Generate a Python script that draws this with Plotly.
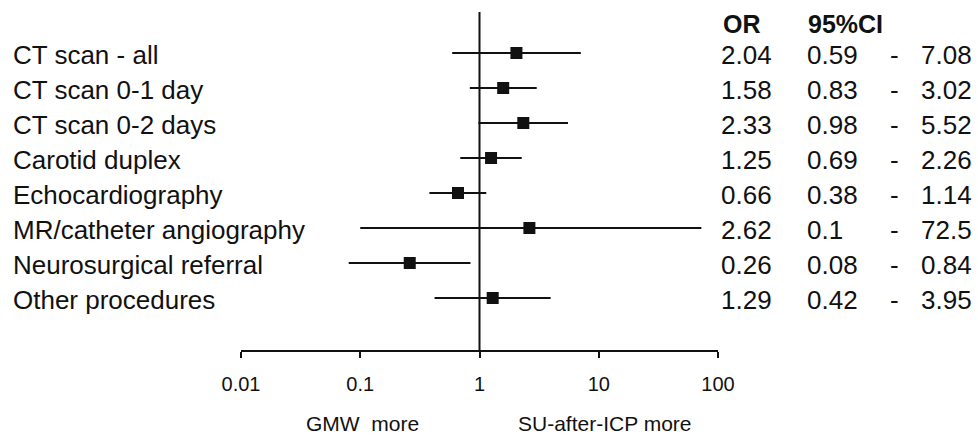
import plotly.graph_objects as go

# Odds ratios with 95% confidence intervals per procedure
procedures = [
    "CT scan - all",
    "CT scan 0-1 day",
    "CT scan 0-2 days",
    "Carotid duplex",
    "Echocardiography",
    "MR/catheter angiography",
    "Neurosurgical referral",
    "Other procedures",
]
odds_ratio = [2.04, 1.58, 2.33, 1.25, 0.66, 2.62, 0.26, 1.29]
ci_low = [0.59, 0.83, 0.98, 0.69, 0.38, 0.1, 0.08, 0.42]
ci_high = [7.08, 3.02, 5.52, 2.26, 1.14, 72.5, 0.84, 3.95]
or_ticks = [0.01, 0.1, 1, 10, 100]
tick_labels = ["0.01", "0.1", "1", "10", "100"]

W, H = 978, 435
PLOT_L, PLOT_R = 241, 718          # pixel extent of the log axis (0.01 .. 100)
AXIS_Y = 350                       # pixel row of the x axis line
ROW_STEP = 35                      # pixels between rows
TOP_ROW_Y = 53

n = len(procedures)
row_val = [n - i for i in range(n)]            # top row -> n, bottom row -> 1
y_min = 1 - (AXIS_Y - (TOP_ROW_Y + ROW_STEP * (n - 1))) / ROW_STEP
y_max = y_min + AXIS_Y / ROW_STEP


def xp(px):
    """pixel column -> paper x"""
    return (px - PLOT_L) / (PLOT_R - PLOT_L)


def yp(py):
    """pixel row -> paper y"""
    return (AXIS_Y - py) / AXIS_Y


def yv(py):
    """pixel row -> y data value"""
    return y_min + (AXIS_Y - py) / ROW_STEP


INK = "#111111"
FONT = "Liberation Sans"

fig = go.Figure()

# reference line at OR = 1
fig.add_trace(go.Scatter(
    x=[1, 1], y=[y_min, yv(12)], mode="lines",
    line=dict(color=INK, width=2), hoverinfo="skip",
))

# confidence interval whiskers
seg_x, seg_y = [], []
for lo, hi, v in zip(ci_low, ci_high, row_val):
    seg_x += [lo, hi, None]
    seg_y += [v, v, None]
fig.add_trace(go.Scatter(
    x=seg_x, y=seg_y, mode="lines",
    line=dict(color=INK, width=2), hoverinfo="skip",
))

# point estimates
fig.add_trace(go.Scatter(
    x=odds_ratio, y=row_val, mode="markers",
    marker=dict(symbol="square", size=12, color=INK, line=dict(width=0)),
))

ann = []
# row labels
for name, v in zip(procedures, row_val):
    ann.append(dict(x=xp(11), xref="paper", y=v - 0.07, yref="y", text=name,
                    xanchor="left", yanchor="middle", showarrow=False,
                    font=dict(family=FONT, size=26, color=INK)))

# table headers
ann.append(dict(x=xp(721), xref="paper", y=yv(24), yref="y", text="<b>OR</b>",
                xanchor="left", yanchor="middle", showarrow=False,
                font=dict(family=FONT, size=25, color=INK)))
ann.append(dict(x=xp(806), xref="paper", y=yv(24), yref="y", text="<b>95%CI</b>",
                xanchor="left", yanchor="middle", showarrow=False,
                font=dict(family=FONT, size=25, color=INK)))

# table values
for o, lo, hi, v in zip(odds_ratio, ci_low, ci_high, row_val):
    yy = v - 0.07
    ann.append(dict(x=xp(719), xref="paper", y=yy, yref="y", text=f"{o:g}",
                    xanchor="left", yanchor="middle", showarrow=False,
                    font=dict(family=FONT, size=26, color=INK)))
    ann.append(dict(x=xp(805), xref="paper", y=yy, yref="y", text=f"{lo:g}",
                    xanchor="left", yanchor="middle", showarrow=False,
                    font=dict(family=FONT, size=26, color=INK)))
    ann.append(dict(x=xp(894), xref="paper", y=yy, yref="y", text="-",
                    xanchor="center", yanchor="middle", showarrow=False,
                    font=dict(family=FONT, size=26, color=INK)))
    ann.append(dict(x=xp(974), xref="paper", y=yy, yref="y", text=f"{hi:g}",
                    xanchor="right", yanchor="middle", showarrow=False,
                    font=dict(family=FONT, size=26, color=INK)))

# direction captions under the axis
ann.append(dict(x=xp(362), xref="paper", y=yp(423), yref="paper", text="GMW&nbsp;&nbsp;more",
                xanchor="center", yanchor="middle", showarrow=False,
                font=dict(family=FONT, size=21, color=INK)))
ann.append(dict(x=xp(605), xref="paper", y=yp(423), yref="paper", text="SU-after-ICP more",
                xanchor="center", yanchor="middle", showarrow=False,
                font=dict(family=FONT, size=21, color=INK)))

fig.update_layout(
    width=W, height=H,
    margin=dict(l=PLOT_L, r=W - PLOT_R, t=0, b=H - AXIS_Y),
    paper_bgcolor="white", plot_bgcolor="white",
    showlegend=False,
    annotations=ann,
    xaxis=dict(
        type="log", range=[-2, 2],
        tickvals=or_ticks, ticktext=tick_labels,
        showline=True, linecolor=INK, linewidth=2,
        ticks="outside", ticklen=6, tickwidth=2, tickcolor=INK,
        ticklabelstandoff=9,
        tickfont=dict(family=FONT, size=20, color=INK),
        showgrid=False, zeroline=False, fixedrange=True,
    ),
    yaxis=dict(range=[y_min, y_max], visible=False, fixedrange=True),
)

fig.write_html("out.html")
